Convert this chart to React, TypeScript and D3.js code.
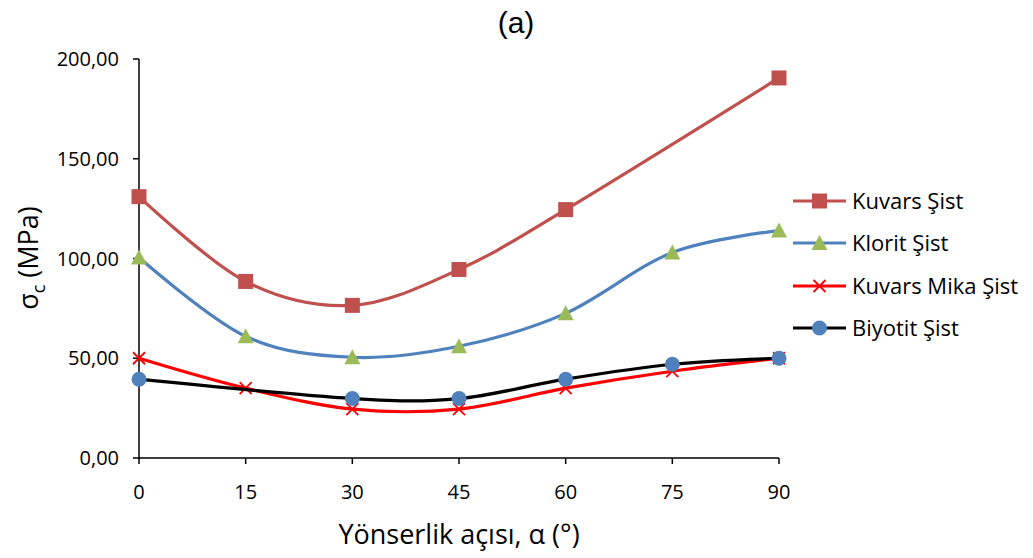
import * as d3 from "d3";

const angles = [0, 15, 30, 45, 60, 75, 90];
const kuvars = [131, 88.5, 76.5, 94.5, 124.5, null, 190.5];
const klorit = [100.5, 61, 50.5, 56, 72.5, 103, 114];
const kuvarsMika = [50, 35, 24.5, 24.5, 35, 43.5, 50];
const biyotit = [39.5, null, 29.8, 29.8, 39.5, 47, 50];
const yTicks = [0, 50, 100, 150, 200];

const series = [
  { name: "Kuvars Şist", values: kuvars, line: "#C0504D", marker: "#C0504D", shape: "square" },
  { name: "Klorit Şist", values: klorit, line: "#4F81BD", marker: "#9BBB59", shape: "triangle" },
  { name: "Kuvars Mika Şist", values: kuvarsMika, line: "#FF0000", marker: "#FF0000", shape: "cross" },
  { name: "Biyotit Şist", values: biyotit, line: "#000000", marker: "#4F81BD", shape: "circle" },
];

const W = 1033;
const H = 558;
const left = 139;
const right = 779;
const top = 59;
const bottom = 458;

function Marker({ shape, color, x, y }) {
  if (shape === "square")
    return <rect x={x - 7.5} y={y - 7.5} width={15} height={15} fill={color} />;
  if (shape === "triangle")
    return <path d={`M${x},${y - 8}L${x + 8},${y + 7}L${x - 8},${y + 7}Z`} fill={color} />;
  if (shape === "cross")
    return (
      <path
        d={`M${x - 6},${y - 6}L${x + 6},${y + 6}M${x - 6},${y + 6}L${x + 6},${y - 6}`}
        stroke={color}
        strokeWidth={1.8}
      />
    );
  return <circle cx={x} cy={y} r={7.5} fill={color} />;
}

export default function App() {
  const x = d3.scaleLinear().domain([0, 90]).range([left, right]);
  const y = d3.scaleLinear().domain([0, 200]).range([bottom, top]);
  const line = d3
    .line<[number, number]>()
    .x((d) => x(d[0]))
    .y((d) => y(d[1]))
    .curve(d3.curveCardinal.tension(0));

  const font = "'Open Sans', sans-serif";
  const legendY = [201, 243, 286, 328];

  return (
    <svg width={W} height={H} style={{ position: "absolute", left: 0, top: 0 }}>
      <rect width={W} height={H} fill="#fff" />
      <text x={516} y={33} textAnchor="middle" fontFamily="'Liberation Sans', Arial" fontSize={30}>
        (a)
      </text>

      {/* axes */}
      <line x1={left} x2={left} y1={top} y2={bottom} stroke="#000" strokeWidth={1.5} />
      <line x1={left} x2={right} y1={bottom} y2={bottom} stroke="#000" strokeWidth={1.5} />
      {yTicks.map((t) => (
        <g key={t}>
          <line x1={left - 6} x2={left} y1={y(t)} y2={y(t)} stroke="#000" strokeWidth={1.5} />
          <text x={left - 20} y={y(t) + 7} textAnchor="end" fontFamily={font} fontSize={20}>
            {d3.format(".2f")(t).replace(".", ",")}
          </text>
        </g>
      ))}
      {angles.map((a) => (
        <g key={a}>
          <line x1={x(a)} x2={x(a)} y1={bottom} y2={bottom + 6} stroke="#000" strokeWidth={1.5} />
          <text x={x(a)} y={bottom + 41} textAnchor="middle" fontFamily={font} fontSize={20}>
            {a}
          </text>
        </g>
      ))}

      <text x={459} y={544} textAnchor="middle" fontFamily={font} fontSize={27}>
        Yönserlik açısı, α (°)
      </text>
      <text
        transform="translate(38,258) rotate(-90)"
        textAnchor="middle"
        fontFamily={font}
        fontSize={27}
      >
        σ<tspan fontSize={18} dy={7}>c</tspan>
        <tspan dy={-7}> (MPa)</tspan>
      </text>

      {series.map((s) => {
        const pts = angles
          .map((a, i) => [a, s.values[i]])
          .filter((p) => p[1] != null) as [number, number][];
        return (
          <g key={s.name}>
            <path d={line(pts) ?? ""} fill="none" stroke={s.line} strokeWidth={3.2} />
            {pts.map((p) => (
              <Marker key={p[0]} shape={s.shape} color={s.marker} x={x(p[0])} y={y(p[1])} />
            ))}
          </g>
        );
      })}

      {/* legend */}
      {series.map((s, i) => (
        <g key={s.name}>
          <line x1={793} x2={846} y1={legendY[i]} y2={legendY[i]} stroke={s.line} strokeWidth={3.2} />
          <Marker shape={s.shape} color={s.marker} x={819.5} y={legendY[i]} />
          <text x={852} y={legendY[i] + 8} fontFamily={font} fontSize={22}>
            {s.name}
          </text>
        </g>
      ))}
    </svg>
  );
}
